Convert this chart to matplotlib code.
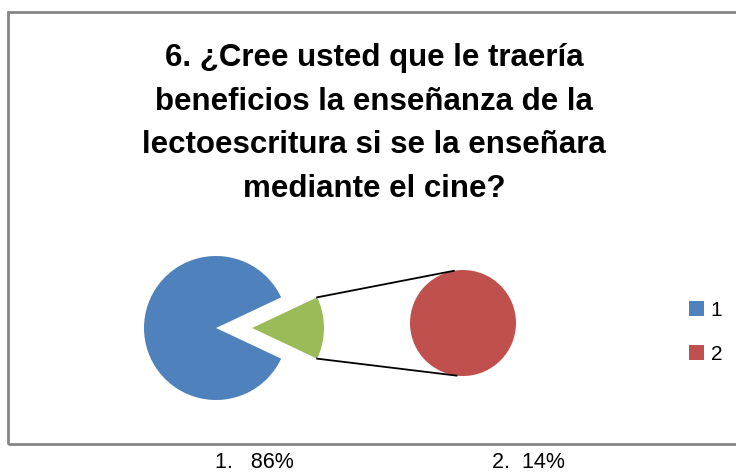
import matplotlib
matplotlib.use("Agg")
import matplotlib.pyplot as plt
from matplotlib.patches import Rectangle
import numpy as np

# data
categories = ["1", "2"]
values = [86, 14]
bottom_labels = ["1.   86%", "2.  14%"]
title = ("6. ¿Cree usted que le traería\n"
         "beneficios la enseñanza de la\n"
         "lectoescritura si se la enseñara\n"
         "mediante el cine?")

BLUE, RED, GREEN = "#4F81BD", "#C0504D", "#9BBB59"
W, H = 736, 472

fig = plt.figure(figsize=(W / 100, H / 100), dpi=100)
ax = fig.add_axes([0, 0, 1, 1])

# chart border (runs off the right edge)
ax.add_patch(Rectangle((8, H - 444), 760, 432, fill=False,
                       edgecolor="#868686", linewidth=2))

# main pie: category 1 + "other" (green) pulled out
total = sum(values)
half = values[1] / total * 180
c1 = (216, H - 328)
r1 = 72
gap = 36
wedges1, _ = ax.pie(values, colors=[BLUE, GREEN], center=c1, radius=r1,
                    startangle=half, explode=[0, gap], frame=True)

# secondary pie: category 2 alone
c2 = (463, H - 323)
r2 = 53
wedges2, _ = ax.pie([values[1]], colors=[RED], center=c2, radius=r2, frame=True)

ax.set_xlim(0, W)
ax.set_ylim(0, H)
ax.set_aspect("equal")
ax.axis("off")

# connector lines from green wedge to secondary pie
gx = c1[0] + gap
for sgn, ang2 in [(1, 100), (-1, 263)]:
    x0 = gx + r1 * np.cos(np.radians(half))
    y0 = c1[1] + sgn * r1 * np.sin(np.radians(half))
    x1 = c2[0] + r2 * np.cos(np.radians(ang2))
    y1 = c2[1] + r2 * np.sin(np.radians(ang2))
    ax.plot([x0, x1], [y0, y1], color="black", lw=1.3)

ax.text(374, H - 123.5, title, ha="center", va="center", fontsize=22.5,
        fontweight="bold", family="Liberation Sans", linespacing=1.6)

ax.legend([wedges1[0], wedges2[0]], categories, loc="center left",
          bbox_to_anchor=(670 / W, 1 - 332 / H), frameon=False,
          handlelength=0.75, handleheight=0.75, handletextpad=0.3,
          labelspacing=1.2, prop={"family": "Liberation Sans", "size": 15})

ax.text(254, H - 462, bottom_labels[0], ha="center", va="center",
        fontsize=15.5, family="Liberation Sans")
ax.text(528, H - 462, bottom_labels[1], ha="center", va="center",
        fontsize=15.5, family="Liberation Sans")

fig.savefig("out.png", dpi=100)
